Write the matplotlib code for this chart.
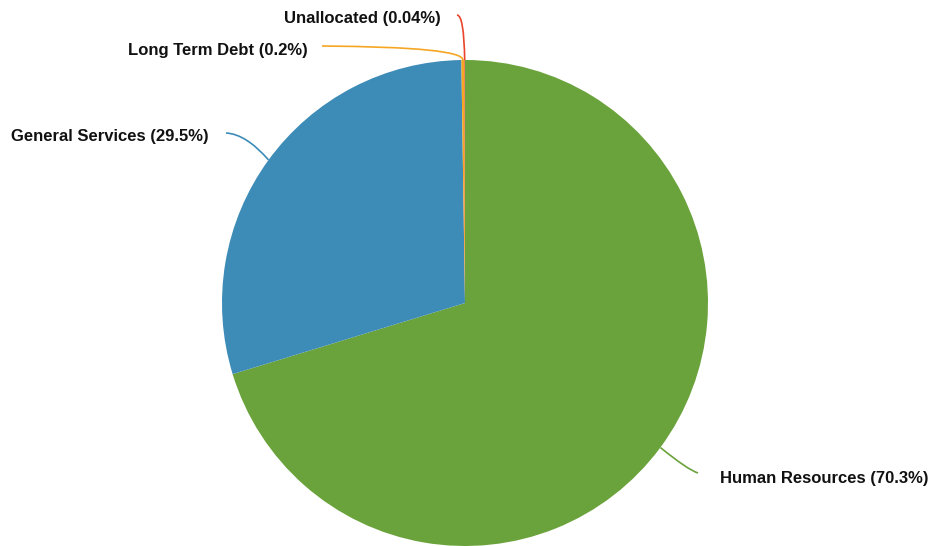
import numpy as np
import matplotlib.pyplot as plt
from matplotlib.path import Path
from matplotlib.patches import PathPatch

#   Budget shares (percent)
labels = ["Human Resources", "General Services", "Long Term Debt", "Unallocated"]
values = [70.3, 29.5, 0.2, 0.04]
pctText = ["70.3%", "29.5%", "0.2%", "0.04%"]
colors = ["#6aa23b", "#3d8bb7", "#f5a623", "#e8452c"]

W, H = 930, 546
fig = plt.figure(figsize=(W / 100, H / 100), dpi=100)
ax = fig.add_axes([0, 0, 1, 1])

#   pixel layout (top-down y), converted below
cx, cy, r = 465, 303, 243
center = (cx, H - cy)

wedges, _ = ax.pie(values, colors=colors, startangle=90, counterclock=False,
                   center=center, radius=r, frame=True,
                   wedgeprops=dict(linewidth=0))
ax.set_xlim(0, W)
ax.set_ylim(0, H)
ax.axis("off")

#   label anchors: (control x, control y, end x, end y, text x, text y, ha) in pixels
labelLayout = [
    (688, 470, 698, 473, 720, 478, "left"),
    (246, 134, 226, 133, 209, 137, "right"),
    (463, 47, 322, 46, 308, 51, "right"),
    (464, 15, 457, 15, 441, 18, "right"),
]

total = sum(values)
cum = 0
for i, v in enumerate(values):
    mid = (cum + v / 2) / total * 360.0
    cum += v
    theta = np.deg2rad(mid)
    sx = cx + r * np.sin(theta)
    sy = cy - r * np.cos(theta)
    ctx, cty, ex, ey, tx, ty, ha = labelLayout[i]
    path = Path([(sx, H - sy), (ctx, H - cty), (ex, H - ey)],
                [Path.MOVETO, Path.CURVE3, Path.CURVE3])
    ax.add_patch(PathPatch(path, facecolor="none", edgecolor=colors[i], linewidth=1.2))
    ax.text(tx, H - ty, labels[i] + " (" + pctText[i] + ")", ha=ha, va="center",
            fontsize=12, fontweight="bold", family=["Liberation Sans", "DejaVu Sans"],
            color="#111111")

fig.savefig("out.png", dpi=100)
